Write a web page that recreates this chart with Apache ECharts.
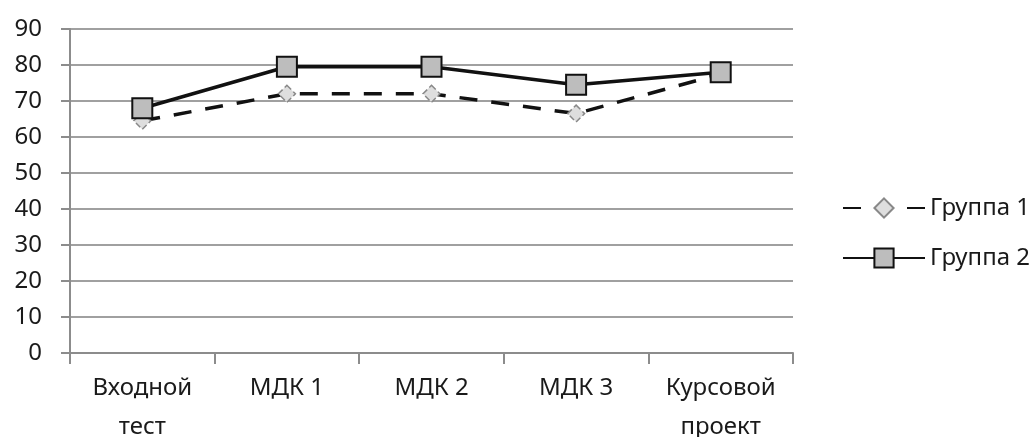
<!DOCTYPE html>
<html><head><meta charset="utf-8">
<script src="https://cdn.jsdelivr.net/npm/echarts@6/dist/echarts.min.js"></script>
<style>html,body{margin:0;padding:0;background:#fff}#c{width:1030px;height:437px}</style>
</head><body><div id="c"></div>
<script>
const categories = ['Входной\nтест', 'МДК 1', 'МДК 2', 'МДК 3', 'Курсовой\nпроект'];
const group1 = [64.5, 72, 72, 66.5, 77.5];
const group2 = [68, 79.5, 79.5, 74.5, 78];
const seriesNames = ['Группа 1', 'Группа 2'];
const yTicks = { min: 0, max: 90, interval: 10 };

const font = 'Noto Sans';
const txt = '#1a1a1a';
const chart = echarts.init(document.getElementById('c'), null, { renderer: 'canvas' });
chart.setOption({
  animation: false,
  backgroundColor: '#fff',
  grid: { left: 70, right: 237, top: 29, bottom: 84, containLabel: false, outerBoundsMode: 'none' },
  legend: {
    orient: 'vertical', left: 837, top: 191, itemWidth: 82, itemHeight: 24, itemGap: 26,
    textStyle: { fontFamily: font, fontSize: 24, color: txt },
    data: seriesNames
  },
  xAxis: {
    type: 'category', data: categories, boundaryGap: true,
    axisLine: { lineStyle: { color: '#8c8c8c', width: 2 } },
    axisTick: { show: true, length: 11, lineStyle: { color: '#8c8c8c', width: 2 } },
    axisLabel: { fontFamily: font, fontSize: 24, color: txt, margin: 16, lineHeight: 39, interval: 0 }
  },
  yAxis: {
    type: 'value', min: yTicks.min, max: yTicks.max, interval: yTicks.interval,
    axisLine: { show: true, lineStyle: { color: '#8c8c8c', width: 2 } },
    axisTick: { show: true, length: 9, lineStyle: { color: '#8c8c8c', width: 2 } },
    axisLabel: { fontFamily: font, fontSize: 24, color: txt, margin: 28 },
    splitLine: { show: true, lineStyle: { color: '#a0a0a0', width: 2 } }
  },
  series: [
    {
      name: seriesNames[0], type: 'line', data: group1,
      symbol: 'diamond', symbolSize: 17,
      lineStyle: { color: '#111', width: 3.5, type: [18, 14] },
      itemStyle: { color: '#dedede', borderColor: '#888', borderWidth: 1.5, borderType: 'dashed' },
      z: 2
    },
    {
      name: seriesNames[1], type: 'line', data: group2,
      symbol: 'rect', symbolSize: 20,
      lineStyle: { color: '#111', width: 3.5, type: 'solid' },
      itemStyle: { color: '#bdbdbd', borderColor: '#111', borderWidth: 2 },
      z: 3
    }
  ]
});
</script></body></html>
